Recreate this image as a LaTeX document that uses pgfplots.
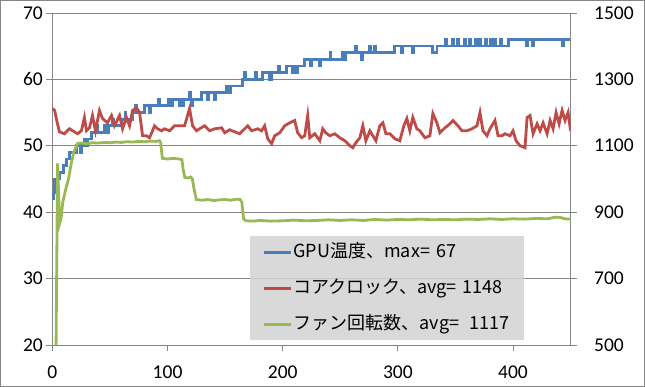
\documentclass[border=0pt]{standalone}
\usepackage{pgfplots}
\pgfplotsset{compat=1.18}
\usepackage{fontspec}
\setmainfont{Carlito}
\newfontfamily\jp{Noto Sans CJK JP}
\definecolor{gridgray}{RGB}{134,134,134}
\definecolor{sblue}{RGB}{74,126,187}
\definecolor{sred}{RGB}{190,75,72}
\definecolor{sgreen}{RGB}{152,185,84}
\definecolor{leggray}{RGB}{210,210,210}
\pgfplotsset{
  common/.style={
    width=518bp, height=332bp, scale only axis,
    xmin=0, xmax=450,
    axis line style={gridgray, line width=0.75bp, -},
    tick style={gridgray, line width=0.75bp},
    major tick length=6bp, tick align=outside,
    tick label style={font=\fontsize{19.5bp}{22bp}\selectfont, black},
    /pgf/number format/assume math mode=true,
    /pgf/number format/1000 sep={},
  }
}
\begin{document}
\begin{tikzpicture}
\begin{axis}[common, name=ax, at={(0,0)}, anchor=south west,
  ymin=20, ymax=70, ytick={20,30,...,70},
  xtick={0,100,...,400},
  axis y line*=left, axis x line*=bottom,
  xticklabel style={yshift=-11bp},
  ymajorgrids, grid style={gridgray, line width=0.75bp},
]
\addplot[sblue, line width=2.8bp, const plot mark left] table {
x y
0 42
1 43
1.7 45
6 46
9.6 47
12.2 48
14.8 49
20.9 50
24 49
25 50
27.8 51
30 50
31 51
33.9 52
38 53
39 52
45.2 53
48 52
49 53
52 54
53 53
60 54
63 55
64 54
69.6 55
72 56
73 55
80 56
84 55
85 56
92 57
93 56
101 57
102 56
104 57
110 56
111 57
113 56
114 57
119 58
120 57
121 56
122 57
129.6 58
134.8 57
136 58
141 57
142 58
151 59
153.5 58
154.5 59
165 60
167 61
168 60
176 61
177 60
182.6 61
188.7 60
190 61
196 62
197 61
203.5 62
208.7 61
210 62
212 61
213 62
219 63
224 62
225 63
232 62
233 63
241 64
242 63
252 64
254 63
255 64
263 65
264 64
268 63
269 64
275 65
276 64
280 65
281 64
297 65
303 64
304 65
313 64
314 65
330.4 64
333.9 65
341 66
342 65
347 66
348 65
352 66
353 65
358 66
359 65
362 66
363 65
367 66
368 65
371 66
372 65
376 66
377 65
380 66
381 65
384 66
385 65
389 66
390 65
396 66
412 65
413 66
417 65
418 66
443 65
444 66
450 66
};
\end{axis}
\begin{axis}[common, at={(0,0)}, anchor=south west,
  ymin=500, ymax=1500, ytick={500,700,...,1500},
  axis y line*=right, axis x line=none,
  yticklabel style={anchor=west, xshift=14bp},
  legend style={at={(axis description cs:0.3803,0.3283)}, anchor=north west,
    draw=none, fill=leggray, fill opacity=0.85, text opacity=1,
    inner xsep=13bp, inner ysep=7bp, row sep=18bp,
    nodes={inner xsep=1bp, inner ysep=0bp, text height=14bp, text depth=4bp,
      font=\jp\fontsize{18bp}{21bp}\selectfont}},
  legend cell align=left,
  legend image code/.code={\draw[#1, line width=2.8bp] (0bp,0bp) -- (27bp,0bp);},
]
\addlegendimage{sblue}
\addlegendentry{GPU温度、max=\hspace{0.35em}67}
\addplot[sred, line width=2.8bp] table {
x y
0 1212
2 1206
3.5 1180
6.1 1142
10.4 1136
14.8 1151
19.1 1142
21.7 1136
25.2 1145
27.8 1185
29.6 1145
32.2 1154
34.8 1191
37.4 1145
40.9 1206
43.5 1182
47.8 1169
51.3 1191
53.9 1160
58.3 1191
60.9 1151
64.3 1185
67.0 1160
69.6 1206
73.0 1215
75.7 1200
78.3 1130
81.7 1130
84.3 1124
87.0 1145
88.7 1160
91.3 1151
94.8 1145
97.4 1151
101.7 1145
106.1 1160
110.4 1160
114.8 1160
119.1 1212
121.7 1160
125.2 1145
127.8 1151
132.2 1160
136.5 1145
140.9 1151
147.0 1154
149.6 1139
153.9 1148
158.3 1142
162.6 1136
167.0 1151
169.6 1160
173.0 1145
178.3 1151
181.7 1145
184.3 1160
187.0 1121
190.4 1106
193.0 1130
197.4 1139
201.7 1160
206.1 1169
210.4 1176
213.0 1139
216.5 1124
219.1 1130
221.7 1191
223.5 1124
227.8 1136
232.2 1115
234.8 1151
237.4 1139
240.9 1130
245.2 1136
249.6 1124
253.9 1115
258.3 1100
260.9 1094
263.5 1109
267.0 1124
269.6 1160
272.2 1115
275.7 1145
278.3 1130
280.9 1115
284.3 1160
287.0 1169
289.6 1136
293.0 1136
297.4 1121
301.7 1115
305.2 1160
307.8 1182
310.4 1145
313.0 1185
316.5 1151
319.1 1145
323.5 1124
327.8 1130
330.4 1197
333.9 1169
336.5 1139
340.9 1154
345.2 1166
347.8 1176
352.2 1160
355.7 1145
360.0 1145
364.3 1151
368.7 1160
371.3 1200
373.9 1145
377.4 1130
380.0 1151
384.3 1176
387.0 1130
390.4 1130
393.0 1136
397.4 1130
400.0 1145
402.6 1115
406.1 1100
410.4 1094
412.2 1185
414.8 1191
417.4 1136
420.9 1166
423.5 1145
426.1 1169
429.6 1136
432.2 1176
434.8 1151
437.4 1200
440.0 1166
442.6 1206
445.2 1176
447.8 1200
450.0 1145
};
\addlegendentry{コアクロック、avg=\hspace{0.35em}1148\hspace{16bp}}
\addplot[sgreen, line width=2.8bp] table {
x y
3.2 500
4.5 1047
6.3 866
7.5 880
9 930
11 960
12 975
14 1000
16 1040
18.5 1080
22 1107
25 1108
30 1106
35 1109
40 1108
45 1110
50 1109
55 1111
60 1110
65 1112
70 1111
75 1113
80 1112
85 1114
90 1113
93 1115
94 1110
95.5 1062
100 1060
105 1062
110 1060
112.5 1058
113.5 1030
115 1004
118 1003
120 1006
121.5 1000
123 970
125 938
130 936
135 938
140 935
145 937
150 938
155 936
160 939
163 938
164.5 930
166 880
168 874
175 873
180 875
190 873
200 874
210 876
220 874
230 875
240 877
250 875
260 877
270 875
280 878
290 876
300 878
310 877
320 879
330 877
340 878
350 877
360 879
370 878
380 880
390 878
400 880
410 879
420 881
430 880
437 885
441 884
445 880
450 879
};
\addlegendentry{ファン回転数、avg=\hspace{0.6em}1117}
\end{axis}
\draw[gridgray, line width=0.75bp] (-52bp,-41.5bp) rectangle (592bp,344.5bp);
\end{tikzpicture}
\end{document}
